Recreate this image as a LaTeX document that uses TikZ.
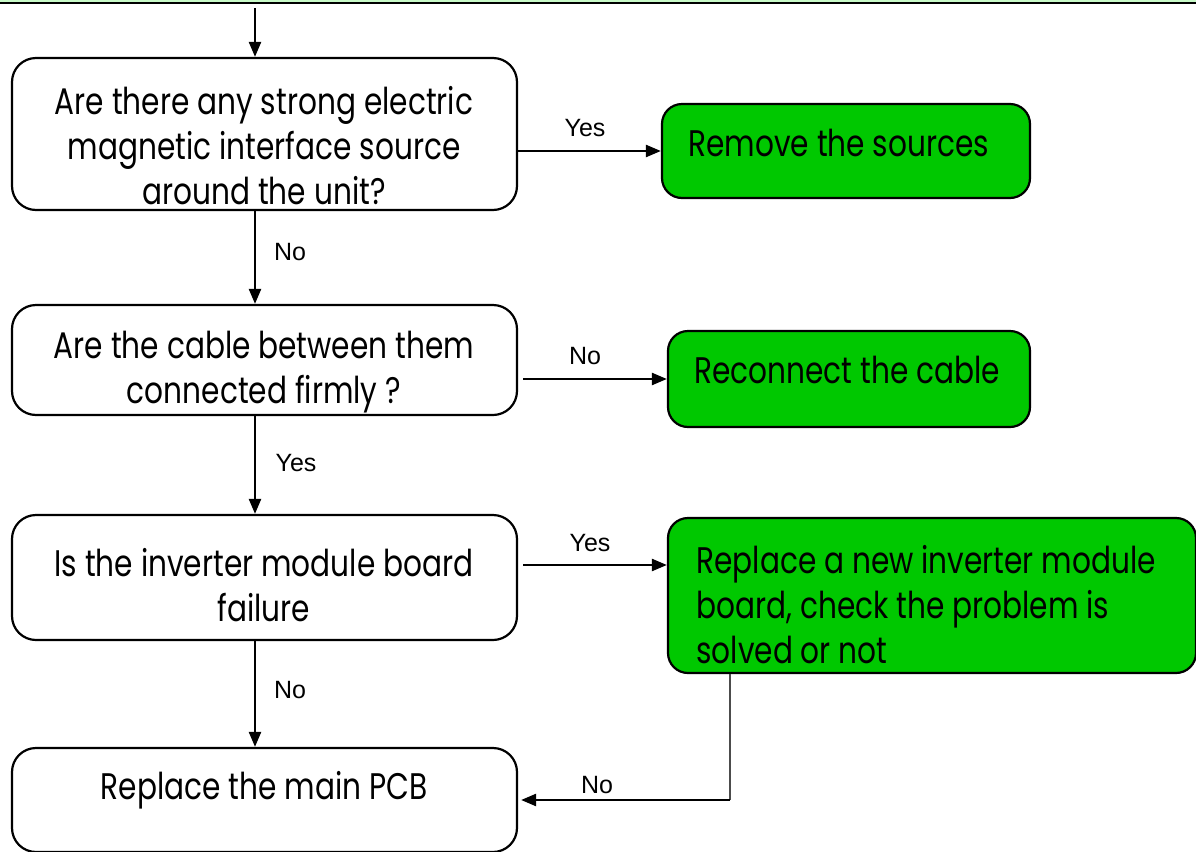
\documentclass[tikz,border=0pt]{standalone}
\usepackage{fontspec}
\setmainfont[FakeStretch=0.8]{Poppins}
\newfontfamily\lblfont{Liberation Sans}
\usepackage{xcolor}
\usetikzlibrary{positioning,calc,arrows.meta}
\definecolor{okgreen}{RGB}{0,200,0}
\definecolor{bandgreen}{RGB}{200,250,200}
\tikzset{
  qbox/.style     = {draw=black, rounded corners=12pt, fill=white, line width=1.1pt, inner sep=0pt},
  actbox/.style   = {draw=black, rounded corners=10pt, fill=okgreen, line width=1.1pt, inner sep=0pt},
  boxtxt/.style   = {font=\fontsize{18.5}{22.5}\selectfont, align=center, inner sep=0pt},
  acttxt/.style   = {font=\fontsize{18.5}{22.5}\selectfont, align=left, anchor=west, inner sep=0pt},
  lbl/.style      = {font=\lblfont\fontsize{12.5}{14}\selectfont, inner sep=0pt},
  arrowto/.style  = {-{Triangle[length=7.5pt,width=6pt]}, draw=black, line width=1.2pt},
  backline/.style = {draw=black!70, line width=0.8pt},
}
\begin{document}
\begin{tikzpicture}[x=0.5pt,y=-0.5pt]
  \useasboundingbox (0,0) rectangle (1196,852);
  % page rule at the top
  \fill[bandgreen] (0,0) rectangle (1196,2);
  \draw[black, line width=1.2pt] (0,3) -- (1196,3);

  % questions
  \node[qbox, minimum width=252.5pt, minimum height=76pt]  (q1) at (264.5,134)   {};
  \node[qbox, minimum width=252.5pt, minimum height=55pt]  (q2) at (264.5,360)   {};
  \node[qbox, minimum width=252.5pt, minimum height=62.5pt] (q3) at (264.5,577.5) {};
  \node[qbox, minimum width=252.5pt, minimum height=52pt]  (q4) at (264.5,800)   {};

  \node[boxtxt] (q1t) at (264,146) {Are there any strong electric\\magnetic interface source\\around the unit?};
  \node[boxtxt] (q2t) at (264,372) {Are the cable between them\\connected firmly ?};
  \node[boxtxt] (q3t) at (264,585) {Is the inverter module board\\failure};
  \node[boxtxt] (q4t) at (264,790) {Replace the main PCB};

  % actions
  \node[actbox, minimum width=184pt, minimum height=47pt]   (g1) at (846,151)   {};
  \node[actbox, minimum width=181pt, minimum height=48pt]   (g2) at (849,379)   {};
  \node[actbox, minimum width=264pt, minimum height=77.5pt] (g3) at (932,595.5) {};

  \node[acttxt] (g1t) at (688,143) {Remove the sources};
  \node[acttxt] (g2t) at (694,370) {Reconnect the cable};
  \node[acttxt] (g3t) at (696,605) {Replace a new inverter module\\board, check the problem is\\solved or not};

  % connectors
  \coordinate (top) at (255,8);
  \draw[arrowto] (top) -- (q1.north -| top);
  \draw[arrowto] (q1.south -| top) -- (q2.north -| top);
  \draw[arrowto] (q2.south -| top) -- (q3.north -| top);
  \draw[arrowto] (q3.south -| top) -- (q4.north -| top);

  \draw[arrowto] (q1.east |- g1.west) -- (g1.west);
  \draw[arrowto] ([xshift=2.5pt]q2.east |- g2.west) -- (g2.west);
  \coordinate (y3) at (0,565);
  \draw[arrowto] ([xshift=2.5pt]q3.east |- y3) -- (g3.west |- y3);

  \coordinate (bend) at (730,800);
  \draw[backline] (g3.south -| bend) -- (bend);
  \draw[arrowto] (bend) -- ([xshift=1.5pt]q4.east |- bend);

  % branch labels
  \node[lbl] (l1) at (585,128) {Yes};
  \node[lbl] (l2) at (290,252) {No};
  \node[lbl] (l3) at (585,356) {No};
  \node[lbl] (l4) at (296,463) {Yes};
  \node[lbl] (l5) at (590,543) {Yes};
  \node[lbl] (l6) at (290,690) {No};
  \node[lbl] (l7) at (597,785) {No};
\end{tikzpicture}
\end{document}
